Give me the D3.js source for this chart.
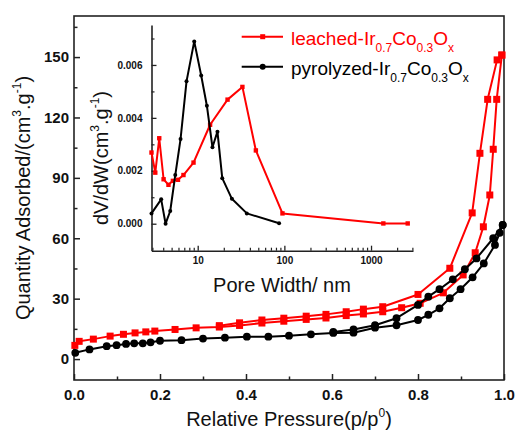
<!DOCTYPE html>
<html><head><meta charset="utf-8">
<script src="https://cdn.jsdelivr.net/npm/d3@7"></script>
<style>
body{margin:0;background:#fff}
svg{display:block}
text{font-family:"Liberation Sans",Arial,sans-serif}
</style>
</head><body>
<svg id="c" width="515" height="438"></svg>
<script>
// ---------- Main isotherm data ----------
const leachedAdsP = [0.002,0.012,0.045,0.084,0.115,0.142,0.167,0.188,0.235,0.284,0.338,0.385,0.437,0.488,0.54,0.586,0.633,0.673,0.718,0.762,0.805,0.859,0.905,0.933,0.952,0.967,0.975,0.983,0.995];
const leachedAdsQ = [6.8,8.8,9.9,11.4,12.3,13.0,13.5,13.9,14.7,15.5,15.9,16.7,17.9,18.8,19.7,20.4,21.6,22.4,23.5,25.5,27.7,32.9,41.8,52.8,65.7,81.5,104.2,129,151];
const leachedDesP = [0.995,0.984,0.962,0.944,0.926,0.874,0.8,0.718,0.673,0.633,0.586,0.54,0.488,0.437,0.385,0.338];
const leachedDesQ = [151,148.6,129,102.2,72.6,45.1,32.1,26.0,24.8,23.5,22.2,21.3,20.3,19.4,18.0,16.6];

const pyroAdsP = [0.003,0.036,0.076,0.099,0.121,0.14,0.16,0.178,0.2,0.25,0.3,0.351,0.402,0.452,0.5,0.551,0.603,0.65,0.7,0.75,0.8,0.824,0.85,0.874,0.899,0.927,0.953,0.979,0.99,0.997];
const pyroAdsQ = [3.1,4.8,6.4,6.9,7.5,7.8,7.8,8.3,9.1,9.4,10.2,10.6,11.1,11.1,11.6,12.3,13.0,13.1,15.6,16.8,19.4,22.0,25.2,30.2,34.7,40.6,47.5,56.7,62.7,66.6];
const pyroDesP = [0.997,0.975,0.936,0.909,0.881,0.85,0.824,0.8,0.75,0.7,0.65,0.603];
const pyroDesQ = [66.6,60.0,50.0,44.6,39.6,34.7,31.0,26.9,20.3,16.8,14.7,13.5];

// ---------- Inset pore size distribution ----------
const leachedWidth = [2.93,3.24,3.60,4.04,4.60,5.17,5.92,6.85,8.95,13.9,22.1,32.8,46.9,95.1,1387,2650];
const leachedDvdw  = [0.00269,0.00193,0.00323,0.00168,0.00147,0.00162,0.00166,0.00184,0.00231,0.00374,0.00469,0.00517,0.00277,0.00039,0.00001,0.00001];
const pyroWidth = [2.93,3.79,4.26,4.82,5.51,6.34,7.43,9.12,10.97,12.76,14.8,16.9,19.2,24.8,36.9,86.9];
const pyroDvdw  = [0.00039,0.00092,0.0,0.00048,0.00184,0.0032,0.00538,0.00689,0.0056,0.00446,0.00289,0.00348,0.00172,0.00094,0.00039,0.00002];

// ---------- Ticks ----------
const xMajor = [0,0.2,0.4,0.6,0.8,1.0];
const xMinor = [0.1,0.3,0.5,0.7,0.9];
const yMajor = [0,30,60,90,120,150];
const yMinor = [15,45,75,105,135,165];
const insetYMajor = [0,0.002,0.004,0.006];
const insetYMinor = [0.001,0.003,0.005,0.007];
const insetXMajor = [10,100,1000];
const insetXMinor = [3,4,5,6,7,8,9,20,30,40,50,60,70,80,90,200,300,400,500,600,700,800,900,2000,3000];

const RED = "#ff0000", BLACK = "#000000", AX = "#222";

const svg = d3.select("#c");
svg.append("rect").attr("width",515).attr("height",438).attr("fill","#fff");

const x = d3.scaleLinear().domain([0,1]).range([74,504]);
const y = d3.scaleLinear().domain([-10.4,170.4]).range([380,16]);

function zip(a,b){return a.map((v,i)=>[v,b[i]]);}

function styleAxis(g, size){
  g.select(".domain").remove();
  g.selectAll(".tick line").attr("stroke",AX).attr("stroke-width",1.5);
  g.selectAll("text").attr("fill","#111").attr("font-weight","bold").attr("font-size",size)
    .attr("font-family",'"Liberation Sans",Arial,sans-serif');
}
const gx = svg.append("g").attr("transform","translate(0,380)")
  .call(d3.axisBottom(x).tickValues(xMajor).tickSize(-6).tickPadding(9).tickFormat(d3.format(".1f")));
styleAxis(gx,15);
const gxm = svg.append("g").attr("transform","translate(0,380)")
  .call(d3.axisBottom(x).tickValues(xMinor).tickSize(-3.5).tickFormat(""));
styleAxis(gxm,15);
const gy = svg.append("g").attr("transform","translate(74,0)")
  .call(d3.axisLeft(y).tickValues(yMajor).tickSize(-6).tickPadding(5).tickFormat(d3.format("d")));
styleAxis(gy,15);
const gym = svg.append("g").attr("transform","translate(74,0)")
  .call(d3.axisLeft(y).tickValues(yMinor).tickSize(-3.5).tickFormat(""));
styleAxis(gym,15);

svg.append("rect").attr("x",74).attr("y",16).attr("width",430).attr("height",364)
  .attr("fill","none").attr("stroke",AX).attr("stroke-width",1.6);

const xt = svg.append("text").attr("x",289).attr("y",426).attr("text-anchor","middle")
  .attr("font-size",20).attr("fill","#111");
xt.append("tspan").text("Relative Pressure(p/p");
xt.append("tspan").attr("font-size",12).attr("dy",-9).text("0");
xt.append("tspan").attr("dy",9).text(")");

const yt = svg.append("text").attr("transform","translate(30,198) rotate(-90)")
  .attr("text-anchor","middle").attr("font-size",20).attr("fill","#111");
yt.append("tspan").text("Quantity Adsorbed/(cm");
yt.append("tspan").attr("font-size",12).attr("dy",-9).text("3");
yt.append("tspan").attr("dy",9).text(".g");
yt.append("tspan").attr("font-size",12).attr("dy",-9).text("-1");
yt.append("tspan").attr("dy",9).text(")");

const line = d3.line().x(d=>x(d[0])).y(d=>y(d[1]));
function drawSeries(data,color,shape){
  svg.append("path").datum(data).attr("d",line).attr("fill","none")
    .attr("stroke",color).attr("stroke-width",2).attr("stroke-linejoin","round");
  if(shape==="square"){
    svg.append("g").selectAll("rect").data(data).join("rect")
      .attr("x",d=>x(d[0])-3.5).attr("y",d=>y(d[1])-3.5).attr("width",7).attr("height",7).attr("fill",color);
  } else {
    svg.append("g").selectAll("circle").data(data).join("circle")
      .attr("cx",d=>x(d[0])).attr("cy",d=>y(d[1])).attr("r",3.9).attr("fill",color);
  }
}
drawSeries(zip(leachedAdsP,leachedAdsQ),RED,"square");
drawSeries(zip(leachedDesP,leachedDesQ),RED,"square");
drawSeries(zip(pyroAdsP,pyroAdsQ),BLACK,"circle");
drawSeries(zip(pyroDesP,pyroDesQ),BLACK,"circle");

const legendNames = [["leached-Ir","0.7","Co","0.3","O","x"],["pyrolyzed-Ir","0.7","Co","0.3","O","x"]];
const legendColors = [RED,BLACK];
legendNames.forEach((parts,i)=>{
  const ly = 36.7 + i*30;
  svg.append("line").attr("x1",241.7).attr("x2",283).attr("y1",ly).attr("y2",ly)
    .attr("stroke",legendColors[i]).attr("stroke-width",2);
  if(i===0) svg.append("rect").attr("x",262.7-2.5).attr("y",ly-2.5).attr("width",5).attr("height",5).attr("fill",RED);
  else svg.append("circle").attr("cx",262.7).attr("cy",ly).attr("r",3).attr("fill",BLACK);
  const t = svg.append("text").attr("x",291).attr("y",ly+8.3).attr("font-size",19).attr("fill",legendColors[i]);
  parts.forEach((p,k)=>{
    const sub = k%2===1;
    t.append("tspan").attr("font-size",sub?12:19).attr("dy",k===0?0:(sub?6.5:-6.5)).text(p);
  });
});

// ---------- Inset ----------
const xi = d3.scaleLog().domain([2.93,3050]).range([151.5,413]);
const yi = d3.scaleLinear().domain([-0.00102,0.00751]).range([250.7,25]);

const gix = svg.append("g").attr("transform","translate(0,250.7)")
  .call(d3.axisBottom(xi).tickValues(insetXMajor).tickSize(-5).tickSizeOuter(0).tickPadding(6).tickFormat(d3.format("d")));
gix.selectAll(".tick line").attr("stroke",AX).attr("stroke-width",1.3);
gix.select(".domain").attr("stroke",AX).attr("stroke-width",1.6);
gix.selectAll("text").attr("font-size",10).attr("font-weight","bold").attr("fill","#111").attr("font-family",'"Liberation Sans",Arial,sans-serif');
const gixm = svg.append("g").attr("transform","translate(0,250.7)")
  .call(d3.axisBottom(xi).tickValues(insetXMinor).tickSize(-3).tickSizeOuter(0).tickFormat(""));
gixm.select(".domain").remove();
gixm.selectAll(".tick line").attr("stroke",AX).attr("stroke-width",1.2);

const giy = svg.append("g").attr("transform","translate(151.5,0)")
  .call(d3.axisLeft(yi).tickValues(insetYMajor).tickSize(-5).tickSizeOuter(0).tickPadding(9).tickFormat(d3.format(".3f")));
giy.selectAll(".tick line").attr("stroke",AX).attr("stroke-width",1.3);
giy.select(".domain").attr("stroke",AX).attr("stroke-width",1.6);
giy.selectAll("text").attr("font-size",10).attr("font-weight","bold").attr("fill","#111").attr("font-family",'"Liberation Sans",Arial,sans-serif');
const giym = svg.append("g").attr("transform","translate(151.5,0)")
  .call(d3.axisLeft(yi).tickValues(insetYMinor).tickSize(-3).tickSizeOuter(0).tickFormat(""));
giym.select(".domain").remove();
giym.selectAll(".tick line").attr("stroke",AX).attr("stroke-width",1.2);

svg.append("text").attr("x",282).attr("y",291.5).attr("text-anchor","middle")
  .attr("font-size",20).attr("fill","#111").text("Pore Width/ nm");
const iyt = svg.append("text").attr("transform","translate(108,158) rotate(-90)")
  .attr("text-anchor","middle").attr("font-size",20).attr("fill","#111");
iyt.append("tspan").text("dV/dW(cm");
iyt.append("tspan").attr("font-size",12).attr("dy",-9).text("3");
iyt.append("tspan").attr("dy",9).text(".g");
iyt.append("tspan").attr("font-size",12).attr("dy",-9).text("-1");
iyt.append("tspan").attr("dy",9).text(")");

const iline = d3.line().x(d=>xi(d[0])).y(d=>yi(d[1]));
const iLeached = zip(leachedWidth,leachedDvdw);
svg.append("path").datum(iLeached).attr("d",iline).attr("fill","none").attr("stroke",RED).attr("stroke-width",2).attr("stroke-linejoin","round");
svg.append("g").selectAll("rect").data(iLeached).join("rect")
  .attr("x",d=>xi(d[0])-2.2).attr("y",d=>yi(d[1])-2.2).attr("width",4.4).attr("height",4.4).attr("fill",RED);
const iPyro = zip(pyroWidth,pyroDvdw);
svg.append("path").datum(iPyro).attr("d",iline).attr("fill","none").attr("stroke",BLACK).attr("stroke-width",2).attr("stroke-linejoin","round");
svg.append("g").selectAll("circle").data(iPyro).join("circle")
  .attr("cx",d=>xi(d[0])).attr("cy",d=>yi(d[1])).attr("r",2).attr("fill",BLACK);
</script>
</body></html>
